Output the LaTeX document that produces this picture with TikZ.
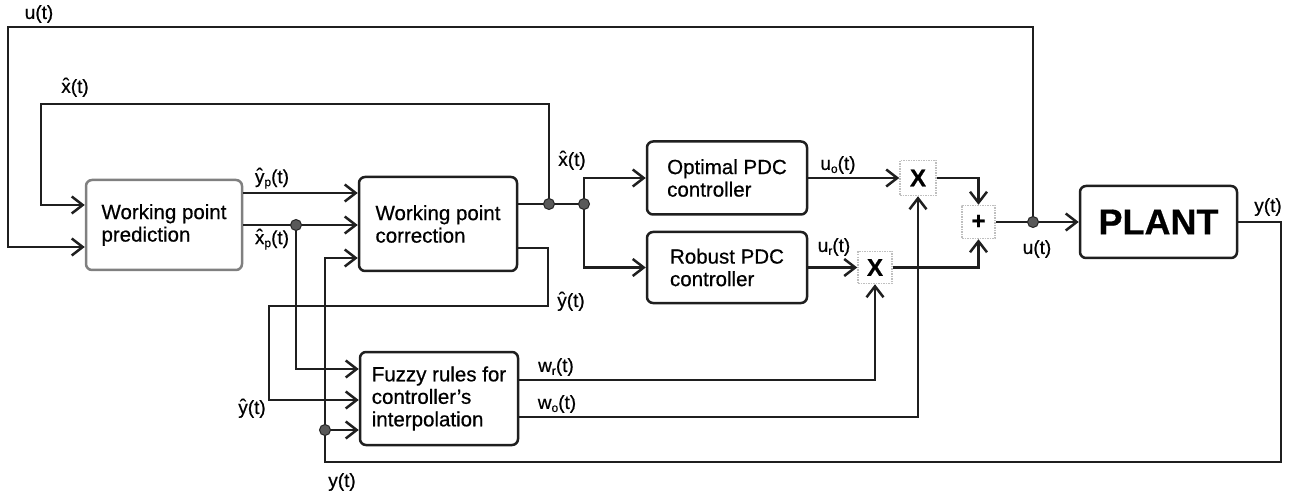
\documentclass[tikz,border=0pt]{standalone}
\usepackage{fontspec}
\setmainfont{Liberation Sans}[FakeBold=0.6]
\usetikzlibrary{arrows.meta}
\newcommand\hatc[1]{\ooalign{#1\cr\hidewidth\raisebox{0.15ex}{\char"02C6}\hidewidth\cr}}
\newcommand\lsub[1]{\raisebox{-0.3ex}{\fontsize{12}{12}\selectfont #1}}
\begin{document}
\begin{tikzpicture}[x=1pt,y=-1pt,
  conn/.style={line width=2.5pt,draw=black!88,line join=miter},
  >={Straight Barb[length=11pt,width=17pt]},
  blk/.style={draw=black!88,line width=2.5pt,rounded corners=6pt,align=left,inner sep=0pt,
    font=\fontsize{20.5}{22.5}\selectfont},
  opbox/.style={draw=black!25,densely dotted,line width=1.5pt,inner sep=0pt,font=\bfseries\fontsize{24}{24}\selectfont},
  lbl/.style={inner sep=0pt,font=\fontsize{19}{21}\selectfont},
  dot/.style={circle,fill=black!65,draw=black!85,line width=1pt,minimum size=11pt,inner sep=0pt}]
\useasboundingbox (0,0) rectangle (1291,497);
% blocks
\node[blk,draw=black!50,minimum width=156pt,minimum height=90pt] (wpp) at (164,225) {Working point\\prediction};
\node[blk,minimum width=158pt,minimum height=94pt] (wpc) at (438,224) {Working point\\correction};
\node[blk,minimum width=158pt,minimum height=93pt] (fuz) at (439,398.5) {Fuzzy rules for\\controller's\\interpolation};
\node[blk,minimum width=160pt,minimum height=73pt] (opt) at (727,178) {Optimal PDC\\controller};
\node[blk,minimum width=160pt,minimum height=71pt] (rob) at (727,267.5) {Robust PDC\\controller};
\node[blk,minimum width=157pt,minimum height=72pt,font=\bfseries\fontsize{36}{36}\selectfont] (plant) at (1158.5,222) {PLANT};
\node[opbox,minimum width=36pt,minimum height=35pt] (mx1) at (918,178) {X};
\node[opbox,minimum width=34pt,minimum height=32pt] (mx2) at (875,267.5) {X};
\node[opbox,minimum width=33pt,minimum height=33pt] (pls) at (978.5,222) {+};
% coordinates
\coordinate (jx1) at (549,204);
\coordinate (jx2) at (584,204);
\coordinate (jxp) at (296,225);
\coordinate (jy) at (325,430);
\coordinate (ju) at (1033,222);
\coordinate (cu) at (8,27);
\coordinate (cx) at (41,104);
\coordinate (cy) at (1281,462);
\coordinate (cw1) at (548,306);
\coordinate (cw2) at (269,400);
% connectors
\draw[conn,->] (ju) |- (cu) |- (wpp.west |- 0,247);
\draw[conn,->] (jx1) |- (cx) |- (wpp.west |- 0,205);
\draw[conn,->] (wpp.east |- 0,193) -- (wpc.west |- 0,193);
\draw[conn,->] (wpp.east |- 0,225) -- (wpc.west |- 0,225);
\draw[conn,->] (jxp) |- (fuz.west |- 0,369);
\draw[conn] (wpc.east |- jx1) -- (jx2);
\draw[conn,->] (jx2) |- (opt.west);
\draw[conn,->] (jx2) |- (rob.west);
\draw[conn,->] (opt.east) -- (mx1.west);
\draw[conn,->] (rob.east) -- (mx2.west);
\draw[conn,->] (mx1.east) -| (pls.north);
\draw[conn,->] (mx2.east) -| (pls.south);
\draw[conn,->] (pls.east) -- (plant.west);
\draw[conn,->] (plant.east) -| (cy) -- (jy |- cy) -- (jy |- 0,258) -- (wpc.west |- 0,258);
\draw[conn,->] (jy) -- (fuz.west |- jy);
\draw[conn,->] (wpc.east |- 0,248) -| (cw1) -| (cw2) -- (fuz.west |- cw2);
\draw[conn,->] (fuz.east |- 0,380) -| (mx2.south);
\draw[conn,->] (fuz.east |- 0,417) -| (mx1.south);
% junction dots
\foreach \j in {jx1,jx2,jxp,jy,ju} \node[dot] at (\j) {};
% labels
\node[lbl] (lu1) at (39,14) {u(t)};
\node[lbl] (lx1) at (75,88) {\hatc{x}(t)};
\node[lbl] (lyp) at (272,179) {\hatc{y}\lsub{p}(t)};
\node[lbl] (lxp) at (272,240) {\hatc{x}\lsub{p}(t)};
\node[lbl] (lx2) at (572,161) {\hatc{x}(t)};
\node[lbl] (ly1) at (571,302) {\hatc{y}(t)};
\node[lbl] (ly2) at (252,409) {\hatc{y}(t)};
\node[lbl] (lwr) at (556,367) {w\lsub{r}(t)};
\node[lbl] (lwo) at (557,404) {w\lsub{o}(t)};
\node[lbl] (luo) at (838,165) {u\lsub{o}(t)};
\node[lbl] (lur) at (834,247) {u\lsub{r}(t)};
\node[lbl] (lu2) at (1037,249) {u(t)};
\node[lbl] (ly3) at (1268,207) {y(t)};
\node[lbl] (ly4) at (342,482) {y(t)};
\end{tikzpicture}
\end{document}
